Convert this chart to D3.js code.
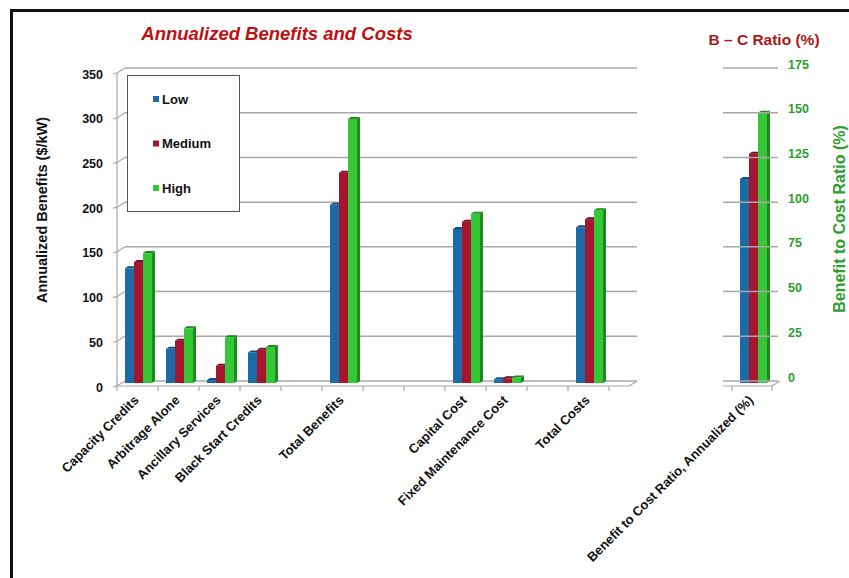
<!DOCTYPE html>
<html>
<head>
<meta charset="utf-8">
<script src="https://cdn.jsdelivr.net/npm/d3@7"></script>
<style>
  body { margin: 0; background: #fff; }
  text { font-family: "Liberation Sans", Arial, sans-serif; font-weight: bold; }
</style>
</head>
<body>
<div id="chart"></div>
<script>
// slots on the left panel; null = empty gap slot
const categories = ["Capacity Credits", "Arbitrage Alone", "Ancillary Services", "Black Start Credits", null,
  "Total Benefits", null, null, "Capital Cost", "Fixed Maintenance Cost", null, "Total Costs"];
const series = ["Low", "Medium", "High"];
const lowValues = [126, 36, 1, 32, null, 197, null, null, 170, 2, null, 172];
const mediumValues = [133, 45, 17, 35, null, 233, null, null, 178, 3, null, 181];
const highValues = [143, 59, 49, 38, null, 293, null, null, 187, 4, null, 191];

const ratioCategory = "Benefit to Cost Ratio, Annualized (%)";
const ratioValues = [113, 127, 150];

const leftTicks = [0, 50, 100, 150, 200, 250, 300, 350];
const rightTicks = [0, 25, 50, 75, 100, 125, 150, 175];

const colors = { Low: "#1c6aa6", Medium: "#a5162e", High: "#36c736" };
const sideColors = { Low: "#124c7a", Medium: "#6e0e1e", High: "#1f8a1f" };

const W = 849, H = 578;
const svg = d3.select("#chart").append("svg").attr("width", W).attr("height", H);

// frame
svg.append("rect").attr("x", 11.5).attr("y", 10.5).attr("width", W + 20).attr("height", H + 20)
  .attr("fill", "none").attr("stroke", "#111").attr("stroke-width", 3);

const depth = 8, drop = 5;
const y = d3.scaleLinear().domain([0, 350]).range([381, 68]);
const yr = d3.scaleLinear().domain([0, 175]).range([381, 68]);

const x0 = d3.scaleBand().domain(d3.range(categories.length)).range([117, 609]);
const x1 = d3.scaleBand().domain(series).range([8, 35]);
const xr = d3.scaleBand().domain([ratioCategory]).range([732, 772]);

const grid = "#a8a8a8";

// left panel walls / gridlines
const gl = svg.append("g");
leftTicks.forEach(t => {
  gl.append("line").attr("x1", 117 + depth).attr("x2", 637).attr("y1", y(t)).attr("y2", y(t))
    .attr("stroke", grid).attr("stroke-width", 1.5);
  gl.append("path").attr("d", `M${117 - 4},${y(t) + drop + 1}L117,${y(t) + drop}L${117 + depth},${y(t)}`)
    .attr("fill", "none").attr("stroke", grid).attr("stroke-width", 1.2);
});
gl.append("line").attr("x1", 117).attr("x2", 117).attr("y1", y(350) + drop).attr("y2", y(0) + drop)
  .attr("stroke", grid).attr("stroke-width", 1.2);
gl.append("line").attr("x1", 117).attr("x2", 629).attr("y1", y(0) + drop).attr("y2", y(0) + drop)
  .attr("stroke", grid).attr("stroke-width", 1.2);
gl.append("line").attr("x1", 629).attr("x2", 637).attr("y1", y(0) + drop).attr("y2", y(0))
  .attr("stroke", grid).attr("stroke-width", 1.2);

// left axis labels via d3 axis
const yAxis = svg.append("g").attr("transform", `translate(103,${drop + 1})`)
  .call(d3.axisLeft(y).tickValues(leftTicks).tickSize(0).tickPadding(0));
yAxis.select(".domain").remove();
yAxis.selectAll("text").attr("font-size", 12.5).attr("fill", "#111")
  .style("font-family", "Liberation Sans, Arial, sans-serif").style("font-weight", "bold");

// bottom category ticks + labels
const xAxis = svg.append("g").attr("transform", `translate(0,${y(0) + drop})`);
d3.range(categories.length + 1).forEach(i => {
  const xx = i < categories.length ? x0(i) : x0(categories.length - 1) + x0.bandwidth();
  xAxis.append("line").attr("x1", xx).attr("x2", xx).attr("y1", 0).attr("y2", 5)
    .attr("stroke", grid).attr("stroke-width", 1.2);
});
categories.forEach((c, i) => {
  if (!c) return;
  xAxis.append("text").attr("text-anchor", "end").attr("font-size", 13).attr("fill", "#111")
    .attr("transform", `translate(${x0(i) + x0.bandwidth() / 2 + 2},15) rotate(-45)`).text(c);
});

function bar3d(g, x, w, yTop, yBase, key) {
  const h = Math.max(yBase - yTop, 0);
  g.append("path")
    .attr("d", `M${x + w},${yTop}L${x + w + 3},${yTop - 2}L${x + w + 3},${yBase - 2}L${x + w},${yBase}Z`)
    .attr("fill", sideColors[key]);
  g.append("path")
    .attr("d", `M${x},${yTop}L${x + 3},${yTop - 2}L${x + w + 3},${yTop - 2}L${x + w},${yTop}Z`)
    .attr("fill", sideColors[key]);
  g.append("rect").attr("x", x).attr("y", yTop).attr("width", w).attr("height", h)
    .attr("fill", colors[key]);
}

const valuesBySeries = { Low: lowValues, Medium: mediumValues, High: highValues };
const bars = svg.append("g");
categories.forEach((c, i) => {
  if (!c) return;
  series.forEach(s => {
    const v = valuesBySeries[s][i];
    bar3d(bars, x0(i) + x1(s), x1.bandwidth(), y(v), y(0) + 2, s);
  });
});

// right panel
const gr = svg.append("g");
rightTicks.forEach(t => {
  gr.append("line").attr("x1", 723).attr("x2", 778).attr("y1", yr(t)).attr("y2", yr(t))
    .attr("stroke", grid).attr("stroke-width", 1.5);
});
gr.append("line").attr("x1", 723).attr("x2", 772).attr("y1", yr(0) + drop).attr("y2", yr(0) + drop)
  .attr("stroke", grid).attr("stroke-width", 1.2);
gr.append("line").attr("x1", 772).attr("x2", 780).attr("y1", yr(0) + drop).attr("y2", yr(0))
  .attr("stroke", grid).attr("stroke-width", 1.2);
[732, 772].forEach(xx => gr.append("line").attr("x1", xx).attr("x2", xx)
  .attr("y1", yr(0) + drop).attr("y2", yr(0) + drop + 5).attr("stroke", grid).attr("stroke-width", 1.2));

const yrAxis = svg.append("g").attr("transform", `translate(788,-4)`)
  .call(d3.axisRight(yr).tickValues(rightTicks).tickSize(0).tickPadding(0));
yrAxis.select(".domain").remove();
yrAxis.selectAll("text").attr("font-size", 12.5).attr("fill", "#2e9e2e")
  .style("font-family", "Liberation Sans, Arial, sans-serif").style("font-weight", "bold");

series.forEach((s, k) => {
  bar3d(bars, xr(ratioCategory) + x1(s), x1.bandwidth(), yr(ratioValues[k]), yr(0) + 2, s);
});
svg.append("text").attr("text-anchor", "end").attr("font-size", 13).attr("fill", "#111")
  .attr("transform", `translate(${xr(ratioCategory) + xr.bandwidth() / 2 + 2},${yr(0) + drop + 15}) rotate(-45)`)
  .text(ratioCategory);

// legend
const lg = svg.append("g");
lg.append("rect").attr("x", 127.5).attr("y", 75.5).attr("width", 112).attr("height", 136)
  .attr("fill", "#fff").attr("stroke", "#555").attr("stroke-width", 1);
series.forEach((s, k) => {
  const ly = 99 + k * 44.5;
  lg.append("rect").attr("x", 153).attr("y", ly - 3).attr("width", 6).attr("height", 6).attr("fill", colors[s]);
  lg.append("text").attr("x", 162).attr("y", ly + 4.5).attr("font-size", 13).attr("fill", "#111").text(s);
});

// titles
svg.append("text").attr("x", 277).attr("y", 40).attr("text-anchor", "middle")
  .attr("font-size", 18.5).attr("font-style", "italic").attr("fill", "#c01010")
  .text("Annualized Benefits and Costs");
svg.append("text").attr("x", 764).attr("y", 45).attr("text-anchor", "middle")
  .attr("font-size", 15.5).attr("fill", "#a81818").text("B \u2013 C Ratio (%)");
svg.append("text").attr("transform", "translate(47,210) rotate(-90)").attr("text-anchor", "middle")
  .attr("font-size", 14.5).attr("fill", "#111").text("Annualized Benefits ($/kW)");
svg.append("text").attr("transform", "translate(845,219) rotate(-90)").attr("text-anchor", "middle")
  .attr("font-size", 16).attr("fill", "#2e9e2e").text("Benefit to Cost Ratio (%)");
</script>
</body>
</html>
